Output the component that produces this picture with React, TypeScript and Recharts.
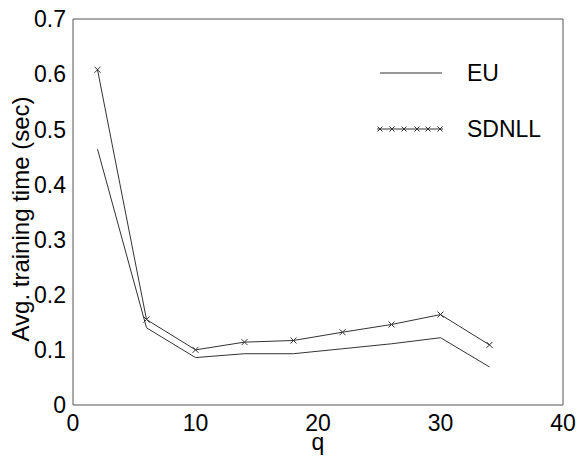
import React from 'react';
import { LineChart, Line, XAxis, YAxis, Legend } from 'recharts';

const qValues = [2, 6, 10, 14, 18, 22, 26, 30, 34];
const euValues = [0.464, 0.14, 0.086, 0.093, 0.093, 0.102, 0.111, 0.122, 0.069];
const sdnllValues = [0.608, 0.155, 0.1, 0.114, 0.117, 0.132, 0.146, 0.164, 0.109];
const xTicks = [0, 10, 20, 30, 40];
const yTicks = [0, 0.1, 0.2, 0.3, 0.4, 0.5, 0.6, 0.7];
const seriesNames = ['EU', 'SDNLL'];

const data = qValues.map((q, i) => ({ q, EU: euValues[i], SDNLL: sdnllValues[i] }));

const FONT = '"Liberation Sans", Arial, Helvetica, sans-serif';
const AXIS = '#555';
const LINE = '#333';
const FS = 23;
const TICK_LEN = 5;

const XTick = (props: any) => {
  const { x, y, payload, tickMargin } = props;
  const axisY = y - tickMargin;
  return (
    <g>
      <line x1={x} x2={x} y1={axisY} y2={axisY - TICK_LEN} stroke={AXIS} />
      <text x={x} y={y} textAnchor="middle" fontSize={FS} fontFamily={FONT} fill="#000">
        {payload.value}
      </text>
    </g>
  );
};

const YTick = (props: any) => {
  const { x, y, payload, tickMargin } = props;
  const axisX = x + tickMargin;
  return (
    <g>
      <line x1={axisX} x2={axisX + TICK_LEN} y1={y} y2={y} stroke={AXIS} />
      <text x={x} y={y} dy="0.36em" textAnchor="end" fontSize={FS} fontFamily={FONT} fill="#000">
        {payload.value}
      </text>
    </g>
  );
};

const TopTick = (props: any) => {
  const { x, y, tickMargin } = props;
  const axisY = y + tickMargin;
  return <line x1={x} x2={x} y1={axisY} y2={axisY + TICK_LEN} stroke={AXIS} />;
};

const RightTick = (props: any) => {
  const { x, y, tickMargin } = props;
  const axisX = x - tickMargin;
  return <line x1={axisX} x2={axisX - TICK_LEN} y1={y} y2={y} stroke={AXIS} />;
};

const Cross = (props: any) => {
  const { cx, cy, index } = props;
  if (cx == null || cy == null) return <g key={`c${index}`} />;
  const s = 3;
  return (
    <path
      key={`c${index}`}
      d={`M${cx - s},${cy - s}L${cx + s},${cy + s}M${cx - s},${cy + s}L${cx + s},${cy - s}`}
      stroke={LINE}
      strokeWidth={1}
      fill="none"
    />
  );
};

const LegendContent = () => {
  const markerXs = [3, 15, 27, 40, 51, 63];
  return (
    <svg width={200} height={100} style={{ display: 'block', overflow: 'visible' }}>
      <line x1={3} x2={65} y1={23} y2={23} stroke={LINE} strokeWidth={1} />
      <text x={90} y={31} fontSize={FS} fontFamily={FONT} fill="#000">
        {seriesNames[0]}
      </text>
      <line x1={0} x2={66} y1={79} y2={79} stroke={LINE} strokeWidth={1} />
      {markerXs.map((mx) => (
        <path
          key={mx}
          d={`M${mx - 2.5},${79 - 2.5}L${mx + 2.5},${79 + 2.5}M${mx - 2.5},${79 + 2.5}L${mx + 2.5},${79 - 2.5}`}
          stroke={LINE}
          strokeWidth={1}
        />
      ))}
      <text x={90} y={87} fontSize={FS} fontFamily={FONT} fill="#000">
        {seriesNames[1]}
      </text>
    </svg>
  );
};

const YLabel = (props: any) => {
  const vb = props.viewBox || { x: 0, y: 19, width: 73, height: 386 };
  const cy = vb.y + vb.height / 2;
  return (
    <text
      transform={`translate(29,${cy + 7}) rotate(-90)`}
      textAnchor="middle"
      fontSize={24}
      fontFamily={FONT}
      fill="#000"
    >
      Avg. training time (sec)
    </text>
  );
};

const XLabel = (props: any) => {
  const vb = props.viewBox || { x: 73, y: 405, width: 490, height: 54 };
  const cx = vb.x + vb.width / 2;
  return (
    <text x={cx} y={450} textAnchor="middle" fontSize={FS} fontFamily={FONT} fill="#000">
      q
    </text>
  );
};

export default function App() {
  return (
    <div style={{ position: 'absolute', left: 0, top: 0, width: 578, height: 459, background: '#fff' }}>
      <LineChart
        width={578}
        height={459}
        data={data}
        margin={{ top: 18, right: 14, bottom: 0, left: 0 }}
      >
        <XAxis
          dataKey="q"
          type="number"
          domain={[0, 40]}
          ticks={xTicks}
          height={54}
          tickSize={0}
          tickMargin={26}
          tickLine={false}
          axisLine={{ stroke: AXIS }}
          tick={<XTick />}
          interval={0}
          label={{ content: <XLabel /> }}
        />
        <XAxis
          xAxisId="top"
          orientation="top"
          dataKey="q"
          type="number"
          domain={[0, 40]}
          ticks={xTicks}
          height={1}
          tickSize={0}
          tickMargin={0}
          tickLine={false}
          axisLine={{ stroke: AXIS }}
          tick={<TopTick />}
          interval={0}
        />
        <YAxis
          type="number"
          domain={[0, 0.7]}
          ticks={yTicks}
          width={73}
          tickSize={0}
          tickMargin={7}
          tickLine={false}
          axisLine={{ stroke: AXIS }}
          tick={<YTick />}
          interval={0}
          label={{ content: <YLabel /> }}
        />
        <YAxis
          yAxisId="right"
          orientation="right"
          type="number"
          domain={[0, 0.7]}
          ticks={yTicks}
          width={1}
          tickSize={0}
          tickMargin={0}
          tickLine={false}
          axisLine={{ stroke: AXIS }}
          tick={<RightTick />}
          interval={0}
        />
        <Legend
          layout="vertical"
          align="center"
          verticalAlign="middle"
          content={<LegendContent />}
          wrapperStyle={{ position: 'absolute', left: 377, top: 50, width: 200, height: 100 }}
        />
        <Line
          type="linear"
          dataKey="EU"
          stroke={LINE}
          strokeWidth={1}
          dot={false}
          activeDot={false}
          isAnimationActive={false}
        />
        <Line
          type="linear"
          dataKey="SDNLL"
          stroke={LINE}
          strokeWidth={1}
          dot={<Cross />}
          activeDot={false}
          isAnimationActive={false}
        />
      </LineChart>
    </div>
  );
}
